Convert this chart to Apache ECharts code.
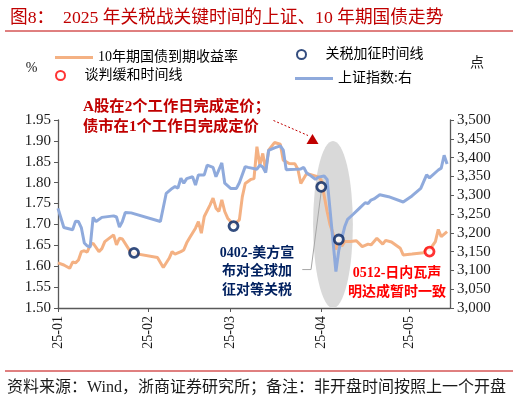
<!DOCTYPE html>
<html><head><meta charset="utf-8">
<script src="https://cdn.jsdelivr.net/npm/echarts@6/dist/echarts.min.js"></script>
<style>html,body{margin:0;padding:0;background:#fff}#c{width:520px;height:401px}</style>
</head><body><div id="c"></div>
<script>
// ---- data ----
const shDates = ['2025-01-01','2025-01-03','2025-01-06','2025-01-07','2025-01-08','2025-01-09','2025-01-10','2025-01-11','2025-01-12','2025-01-13','2025-01-14','2025-01-16','2025-01-20','2025-01-21','2025-01-22','2025-01-23','2025-01-24','2025-01-26','2025-02-05','2025-02-07','2025-02-09','2025-02-10','2025-02-11','2025-02-12','2025-02-13','2025-02-14','2025-02-16','2025-02-17','2025-02-18','2025-02-20','2025-02-21','2025-02-23','2025-02-24','2025-02-26','2025-02-27','2025-03-01','2025-03-03','2025-03-04','2025-03-06','2025-03-07','2025-03-10','2025-03-11','2025-03-12','2025-03-13','2025-03-14','2025-03-16','2025-03-18','2025-03-19','2025-03-20','2025-03-23','2025-03-25','2025-03-26','2025-03-27','2025-03-28','2025-03-30','2025-03-31','2025-04-02','2025-04-03','2025-04-06','2025-04-07','2025-04-09','2025-04-10','2025-04-12','2025-04-14','2025-04-16','2025-04-17','2025-04-18','2025-04-19','2025-04-21','2025-04-24','2025-04-29','2025-05-02','2025-05-05','2025-05-07','2025-05-08','2025-05-11','2025-05-12','2025-05-13','2025-05-14'];
const shValues = [3265,3214,3208,3231,3230,3213,3173,3165,3162,3241,3230,3241,3245,3242,3215,3230,3254,3253,3230,3305,3318,3323,3319,3345,3332,3344,3349,3327,3354,3354,3380,3374,3349,3386,3332,3318,3318,3333,3376,3374,3369,3380,3375,3360,3419,3426,3431,3420,3368,3369,3370,3374,3359,3354,3342,3348,3351,3342,3097,3154,3216,3236,3250,3265,3280,3278,3287,3290,3301,3296,3282,3298,3318,3354,3346,3367,3372,3406,3383];

const ybDates = ['2025-01-01','2025-01-03','2025-01-05','2025-01-06','2025-01-07','2025-01-08','2025-01-09','2025-01-10','2025-01-11','2025-01-12','2025-01-13','2025-01-15','2025-01-16','2025-01-17','2025-01-20','2025-01-21','2025-01-22','2025-01-23','2025-01-26','2025-02-04','2025-02-06','2025-02-08','2025-02-09','2025-02-10','2025-02-12','2025-02-13','2025-02-14','2025-02-15','2025-02-17','2025-02-18','2025-02-19','2025-02-20','2025-02-22','2025-02-23','2025-02-24','2025-02-25','2025-02-26','2025-02-27','2025-02-28','2025-03-01','2025-03-02','2025-03-04','2025-03-05','2025-03-06','2025-03-08','2025-03-09','2025-03-10','2025-03-11','2025-03-12','2025-03-13','2025-03-14','2025-03-16','2025-03-18','2025-03-19','2025-03-21','2025-03-23','2025-03-24','2025-03-25','2025-03-27','2025-03-29','2025-03-31','2025-04-01','2025-04-03','2025-04-04','2025-04-05','2025-04-06','2025-04-07','2025-04-08','2025-04-09','2025-04-11','2025-04-13','2025-04-15','2025-04-17','2025-04-18','2025-04-20','2025-04-22','2025-04-23','2025-04-25','2025-04-28','2025-04-29','2025-05-02','2025-05-06','2025-05-07','2025-05-08','2025-05-10','2025-05-11','2025-05-12','2025-05-14'];
const ybValues = [1.608,1.603,1.595,1.610,1.608,1.615,1.635,1.637,1.634,1.651,1.655,1.635,1.642,1.659,1.675,1.651,1.667,1.665,1.632,1.621,1.597,1.619,1.635,1.629,1.635,1.639,1.656,1.668,1.691,1.707,1.679,1.719,1.747,1.763,1.739,1.731,1.759,1.731,1.715,1.707,1.699,1.711,1.766,1.798,1.808,1.810,1.886,1.842,1.870,1.830,1.878,1.896,1.892,1.854,1.846,1.845,1.832,1.798,1.822,1.818,1.814,1.806,1.731,1.699,1.679,1.640,1.663,1.648,1.659,1.659,1.661,1.647,1.653,1.651,1.667,1.653,1.662,1.658,1.643,1.627,1.629,1.632,1.643,1.639,1.659,1.688,1.671,1.683];

const hikeDates = ['2025-01-27','2025-03-02','2025-04-01','2025-04-07'];
const hikeValues = [1.632,1.696,1.790,1.664];
const easeDates = ['2025-05-08'];
const easeValues = [1.635];

const monthLabels = ['25-01','25-02','25-03','25-04','25-05'];
const leftTicks = {min:1.50, max:1.95, interval:0.05};
const rightTicks = {min:3000, max:3500, interval:50};

const SERIF = '"Liberation Serif","Times New Roman","Noto Sans CJK SC",serif';
const chart = echarts.init(document.getElementById('c'), null, {renderer:'canvas'});
const ts = s => { const [y, m, d] = s.split('-').map(Number); return Date.UTC(y, m - 1, d); };
const pair = (ds, vs) => ds.map((d, i) => [ts(d), vs[i]]);
const monthStarts = monthLabels.map((_, i) => Date.UTC(2025, i, 1));
const DAY = 86400000;

const option = {
  animation: false,
  backgroundColor: '#fff',
  title: {
    text: '图8：  2025 年关税战关键时间的上证、10 年期国债走势',
    left: 5, top: 5,
    textStyle: {color: '#c00000', fontSize: 17.7, fontWeight: 'normal', fontFamily: SERIF}
  },
  grid: {left: 58, right: 70, top: 120, bottom: 93, containLabel: false},
  legend: [
    {left: 55, top: 50.5, padding: 0, itemWidth: 38, itemHeight: 3, data: [{name: '10年期国债到期收益率', icon: 'rect'}],
     textStyle: {fontSize: 14, fontFamily: SERIF, color: '#000'}},
    {left: 296, top: 47.5, padding: 0, itemWidth: 38, itemHeight: 9, data: ['关税加征时间线'],
     textStyle: {fontSize: 14, fontFamily: SERIF, color: '#000'}},
    {left: 55, top: 68.5, padding: 0, itemWidth: 38, itemHeight: 9, data: ['谈判缓和时间线'],
     textStyle: {fontSize: 14, fontFamily: SERIF, color: '#000'}},
    {left: 295, top: 71.5, padding: 0, itemWidth: 38, itemHeight: 3, data: [{name: '上证指数:右', icon: 'rect'}],
     textStyle: {fontSize: 14, fontFamily: SERIF, color: '#000'}}
  ],
  xAxis: {
    type: 'value',
    min: monthStarts[0],
    max: Date.UTC(2025, 4, 15),
    splitLine: {show: false},
    axisLine: {lineStyle: {color: '#595959', width: 1.3}},
    axisTick: {show: true, length: 4, lineStyle: {color: '#595959'}, customValues: monthStarts},
    axisLabel: {
      customValues: monthStarts, rotate: 90, margin: 8,
      fontSize: 14, fontFamily: SERIF, color: '#1a1a1a',
      formatter: function (v) { const i = monthStarts.indexOf(v); return i >= 0 ? monthLabels[i] : ''; }
    }
  },
  yAxis: [
    {
      type: 'value', min: leftTicks.min, max: leftTicks.max, interval: leftTicks.interval,
      splitLine: {show: false},
      axisLine: {show: true, lineStyle: {color: '#595959', width: 1.3}},
      axisTick: {show: true, length: 4, lineStyle: {color: '#595959'}},
      axisLabel: {formatter: v => v.toFixed(2), fontSize: 15, fontFamily: SERIF, color: '#1a1a1a', margin: 7}
    },
    {
      type: 'value', min: rightTicks.min, max: rightTicks.max, interval: rightTicks.interval, position: 'right',
      splitLine: {show: false},
      axisLine: {show: true, lineStyle: {color: '#595959', width: 1.3}},
      axisTick: {show: true, length: 4, lineStyle: {color: '#595959'}},
      axisLabel: {formatter: v => v.toLocaleString('en-US'), fontSize: 15, fontFamily: SERIF, color: '#1a1a1a', margin: 7}
    }
  ],
  series: [
    {name: '10年期国债到期收益率', type: 'line', yAxisIndex: 0, data: pair(ybDates, ybValues),
     showSymbol: false, symbol: 'none', lineStyle: {color: '#F4B183', width: 3}, itemStyle: {color: '#F4B183'}, z: 3},
    {name: '上证指数:右', type: 'line', yAxisIndex: 1, data: pair(shDates, shValues),
     showSymbol: false, symbol: 'none', lineStyle: {color: '#8FAADC', width: 3}, itemStyle: {color: '#8FAADC'}, z: 4},
    {name: '关税加征时间线', type: 'scatter', yAxisIndex: 0, data: pair(hikeDates, hikeValues),
     symbol: 'circle', symbolSize: 9, itemStyle: {color: '#fff', borderColor: '#00205F', borderWidth: 2.8}, z: 6},
    {name: '谈判缓和时间线', type: 'scatter', yAxisIndex: 0, data: pair(easeDates, easeValues),
     symbol: 'circle', symbolSize: 9, itemStyle: {color: '#fff', borderColor: '#FF0000', borderWidth: 2.8}, z: 6}
  ]
};
chart.setOption(option);

// ---- annotations, anchored to data coordinates ----
const cp = (t, v) => chart.convertToPixel({xAxisIndex: 0, yAxisIndex: 0}, [t, v]);
const eC = cp(ts('2025-04-05'), 1.70);
const eX = cp(ts('2025-04-05') + 6.8 * DAY, 1.70);
const eY = cp(ts('2025-04-05'), 1.90);
const rx = eX[0] - eC[0], ry = eC[1] - eY[1];
const c3 = cp(ts('2025-04-01'), 1.790);
const l2 = cp(ts('2025-03-28') + 0.5 * DAY, 1.592);
const l3 = cp(ts('2025-03-25') + 0.5 * DAY, 1.592);

chart.setOption({
  graphic: [
    {type: 'circle', x: eC[0], y: eC[1], scaleX: rx / ry, shape: {cx: 0, cy: 0, r: ry}, style: {fill: '#d9d9d9'}, z: 1, silent: true},
    {type: 'polyline', shape: {points: [[c3[0], c3[1] + 4], l2, l3]}, style: {stroke: '#a6a6a6', lineWidth: 1, fill: null}, z: 2},
    {type: 'line', shape: {x1: 5, y1: 31, x2: 513, y2: 31}, style: {stroke: '#c00000', lineWidth: 1}},
    {type: 'line', shape: {x1: 5, y1: 371, x2: 513, y2: 371}, style: {stroke: '#c00000', lineWidth: 1}},
    {type: 'text', x: 7, y: 387.5, style: {text: '资料来源：Wind，浙商证券研究所；备注：非开盘时间按照上一个开盘', fill: '#1a1a1a', fontSize: 16, fontFamily: SERIF, verticalAlign: 'middle', align: 'left'}},
    {type: 'text', x: 31.5, y: 68, style: {text: '%', fill: '#1a1a1a', fontSize: 14, fontFamily: SERIF, verticalAlign: 'middle', align: 'center'}},
    {type: 'text', x: 477, y: 63.5, style: {text: '点', fill: '#1a1a1a', fontSize: 14, fontFamily: SERIF, verticalAlign: 'middle', align: 'center'}},
    {type: 'text', x: 83, y: 97, z: 20, style: {text: 'A股在2个工作日完成定价；\n债市在1个工作日完成定价', fill: '#c00000', fontSize: 15.3, fontWeight: 'bold', lineHeight: 20, fontFamily: SERIF, verticalAlign: 'top', align: 'left'}},
    {type: 'line', shape: {x1: 273.5, y1: 120.5, x2: 308, y2: 135.5}, style: {stroke: '#c00000', lineWidth: 1, lineDash: [2, 2]}, z: 20},
    {type: 'polygon', shape: {points: [[306.5, 144], [318.5, 144], [312.5, 134]]}, style: {fill: '#c00000'}, z: 20},
    {type: 'text', x: 257, y: 244, z: 20, style: {text: '0402-美方宣\n布对全球加\n征对等关税', fill: '#00205F', fontSize: 14, fontWeight: 'bold', lineHeight: 18.5, fontFamily: SERIF, verticalAlign: 'top', align: 'center'}},
    {type: 'text', x: 397, y: 263.5, z: 20, style: {text: '0512-日内瓦声\n明达成暂时一致', fill: '#FF0000', fontSize: 14, fontWeight: 'bold', lineHeight: 19, fontFamily: SERIF, verticalAlign: 'top', align: 'center'}}
  ]
});
</script></body></html>
